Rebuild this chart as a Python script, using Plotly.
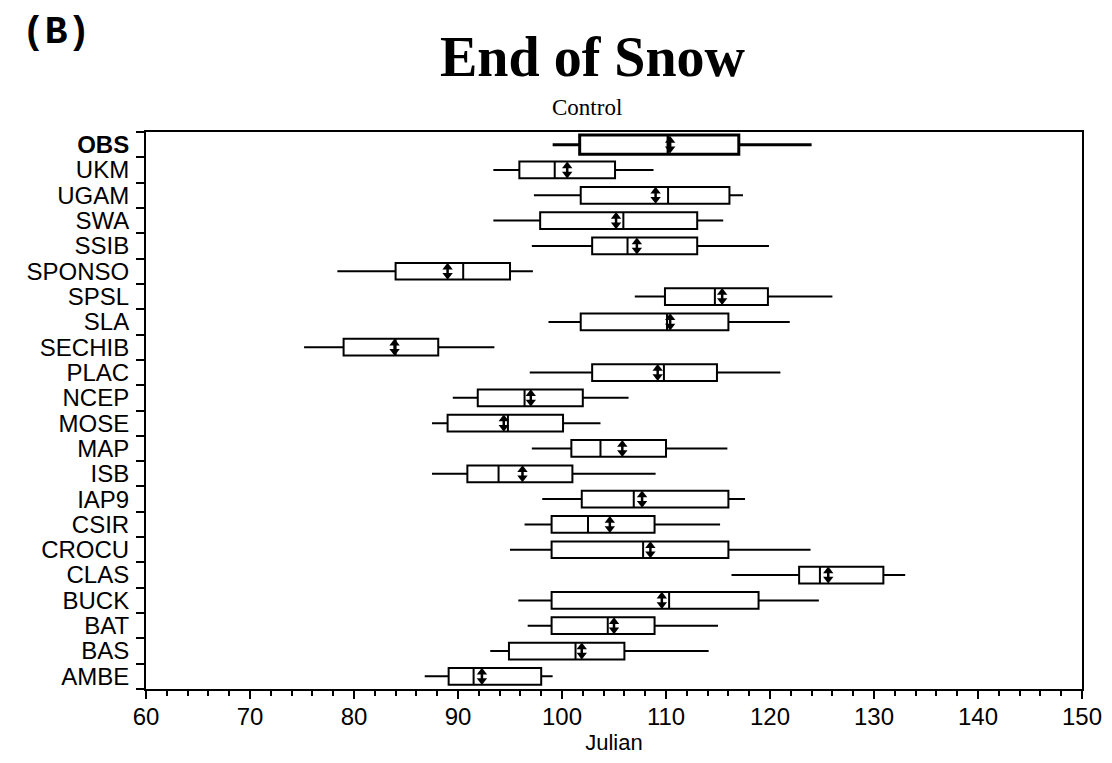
import plotly.graph_objects as go

models = ["OBS", "UKM", "UGAM", "SWA", "SSIB", "SPONSO", "SPSL", "SLA", "SECHIB", "PLAC",
          "NCEP", "MOSE", "MAP", "ISB", "IAP9", "CSIR", "CROCU", "CLAS", "BUCK", "BAT", "BAS", "AMBE"]
lower = [99.1, 93.4, 97.3, 93.4, 97.1, 78.4, 107.0, 98.7, 75.2, 96.9, 89.5,
         87.5, 97.1, 87.5, 98.1, 96.4, 95.0, 116.3, 95.8, 96.7, 93.1, 86.8]
q1 = [101.7, 95.9, 101.8, 97.9, 102.9, 84.0, 109.9, 101.8, 79.0, 102.9, 91.9,
      89.0, 100.9, 90.9, 101.9, 99.0, 99.0, 122.8, 99.0, 99.0, 94.9, 89.1]
median = [110.2, 99.3, 110.2, 105.9, 106.3, 90.5, 114.7, 110.1, 84.0, 109.8, 96.4,
          94.8, 103.7, 93.9, 106.9, 102.5, 107.8, 124.8, 110.3, 104.4, 101.3, 91.5]
mean = [110.4, 100.5, 109.0, 105.2, 107.2, 89.0, 115.4, 110.4, 83.9, 109.2, 97.0,
        94.4, 105.8, 96.2, 107.7, 104.6, 108.5, 125.6, 109.6, 105.0, 101.9, 92.3]
q3 = [117.0, 105.1, 116.1, 113.0, 113.0, 95.0, 119.8, 116.0, 88.1, 114.9, 102.0,
      100.1, 110.0, 101.0, 116.0, 108.9, 116.0, 130.9, 118.9, 108.9, 106.0, 98.0]
upper = [124.0, 108.8, 117.4, 115.5, 119.9, 97.2, 126.0, 121.9, 93.5, 121.0, 106.4,
         103.7, 115.9, 109.0, 117.6, 115.2, 123.9, 133.0, 124.7, 115.0, 114.1, 99.1]
x_ticks = [60, 70, 80, 90, 100, 110, 120, 130, 140, 150]

n = len(models)
pos = [n - 1 - i for i in range(n)]
labels = ["<b>%s</b>" % m if m == "OBS" else m for m in models]

fig = go.Figure()

def add_boxes(idx, lw, bw):
    fig.add_trace(go.Box(
        y=[pos[i] for i in idx],
        q1=[q1[i] for i in idx],
        median=[median[i] for i in idx],
        q3=[q3[i] for i in idx],
        lowerfence=[lower[i] for i in idx],
        upperfence=[upper[i] for i in idx],
        orientation="h",
        width=bw,
        whiskerwidth=0,
        fillcolor="white",
        line=dict(color="black", width=lw),
        showlegend=False,
        hoverinfo="skip",
    ))

add_boxes([0], 3, 0.76)
add_boxes(list(range(1, n)), 2, 0.66)

fig.add_trace(go.Scatter(
    x=[v for m in mean for v in (m, m, None)],
    y=[v for p in pos for v in (p - 0.2, p + 0.2, None)],
    mode="lines", line=dict(color="black", width=2.5),
    showlegend=False, hoverinfo="skip"))
fig.add_trace(go.Scatter(
    x=mean, y=[p + 0.16 for p in pos], mode="markers",
    marker=dict(symbol="triangle-up", size=9, color="black"),
    showlegend=False, hoverinfo="skip"))
fig.add_trace(go.Scatter(
    x=mean, y=[p - 0.16 for p in pos], mode="markers",
    marker=dict(symbol="triangle-down", size=9, color="black"),
    showlegend=False, hoverinfo="skip"))

# page body has an 8px default margin, so the figure is drawn at (8, 8)
OFF = 8
W, H = 1112 - OFF, 763 - OFF
L, R, T, B = 146 - OFF, 30, 132 - OFF, 74

fig.update_layout(
    width=W, height=H,
    margin=dict(l=L, r=R, t=T, b=B, autoexpand=False),
    paper_bgcolor="white", plot_bgcolor="white",
    boxmode="overlay",
    font=dict(family="Liberation Sans, Arial, sans-serif", color="black"),
    xaxis=dict(
        range=[60, 150], tickmode="array", tickvals=x_ticks,
        ticks="outside", ticklen=8, tickwidth=2, tickcolor="black",
        minor=dict(dtick=2, tick0=60, ticks="outside", ticklen=5, tickwidth=1.5, tickcolor="black"),
        showline=True, linecolor="black", linewidth=2, mirror=True,
        showgrid=False, zeroline=False,
        ticklabelstandoff=-3,
        tickfont=dict(size=24, family="Liberation Sans, Arial, sans-serif"),
        title=dict(text="Julian", font=dict(size=22), standoff=6),
    ),
    yaxis=dict(
        range=[-0.5, n - 0.5], tickmode="array", tickvals=pos, ticktext=labels,
        ticks="", ticklabelstandoff=10,
        minor=dict(tickmode="array", tickvals=[k - 0.5 for k in range(n + 1)],
                   ticks="outside", ticklen=8, tickwidth=2, tickcolor="black"),
        showline=True, linecolor="black", linewidth=2, mirror=True,
        showgrid=False, zeroline=False,
        tickfont=dict(size=24, family="Liberation Sans, Arial, sans-serif"),
    ),
    annotations=[
        dict(text="<b>End of Snow</b>", x=593, y=57, showarrow=False,
             font=dict(family="Liberation Serif, Times New Roman, serif", size=56)),
        dict(text="Control", x=587, y=108, showarrow=False,
             font=dict(family="Liberation Serif, Times New Roman, serif", size=23)),
        dict(text="<b>(B)</b>", x=56, y=32, showarrow=False,
             font=dict(family="Liberation Mono, Courier New, monospace", size=38)),
    ],
)

# convert page-pixel positions of annotations to paper coordinates
pw, ph = W - L - R, H - T - B
for a in fig.layout.annotations:
    px, py = a.x - OFF, a.y - OFF
    a.xref = "paper"
    a.yref = "paper"
    a.x = (px - L) / pw
    a.y = (H - B - py) / ph
    a.xanchor = "center"
    a.yanchor = "middle"

fig.write_html("out.html")
